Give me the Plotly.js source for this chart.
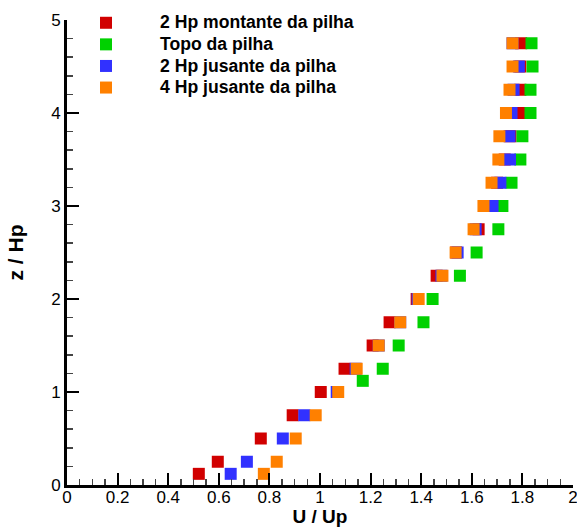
<!DOCTYPE html>
<html>
<head>
<meta charset="utf-8">
<script src="https://cdn.plot.ly/plotly-3.0.1.min.js"></script>
<style>
  html, body { margin: 0; padding: 0; background: #fff; }
  #chart { width: 577px; height: 527px; }
</style>
</head>
<body>
<div id="chart"></div>
<script>
// Series names
const seriesNames = ["2 Hp montante da pilha", "Topo da pilha", "2 Hp jusante da pilha", "4 Hp jusante da pilha"];

// z / Hp levels
const zLevels = [0.12, 0.25, 0.5, 0.75, 1.0, 1.25, 1.5, 1.75, 2.0, 2.25, 2.5, 2.75, 3.0, 3.25, 3.5, 3.75, 4.0, 4.25, 4.5, 4.75];
const zGreen  = [1.12, 1.25, 1.5, 1.75, 2.0, 2.25, 2.5, 2.75, 3.0, 3.25, 3.5, 3.75, 4.0, 4.25, 4.5, 4.75];

// U / Up values
const uMontante2 = [0.521, 0.596, 0.766, 0.892, 1.003, 1.097, 1.208, 1.275, 1.382, 1.461, 1.538, 1.627, 1.66, 1.70, 1.73, 1.753, 1.79, 1.792, 1.792, 1.795];
const uTopo      = [1.169, 1.248, 1.311, 1.409, 1.445, 1.553, 1.619, 1.705, 1.721, 1.757, 1.792, 1.800, 1.832, 1.832, 1.840, 1.836];
const uJusante2  = [0.647, 0.711, 0.853, 0.938, 1.066, 1.141, 1.232, 1.317, 1.386, 1.480, 1.544, 1.615, 1.682, 1.713, 1.751, 1.749, 1.757, 1.765, 1.786, 1.761];
const uJusante4  = [0.778, 0.829, 0.904, 0.983, 1.072, 1.145, 1.232, 1.317, 1.390, 1.484, 1.536, 1.607, 1.646, 1.678, 1.705, 1.709, 1.735, 1.749, 1.761, 1.761];

const colors = ["#d10000", "#00d100", "#3131ff", "#ff8000"];
const FONT = "Liberation Sans, Arial, sans-serif";

function trace(x, y, name, color) {
  return {
    type: "scatter", mode: "markers", x: x, y: y,
    name: '<span style="font-size:17.6px;font-weight:bold">' + name + '</span>',
    marker: { symbol: "square", size: 12, color: color, line: { width: 0 } },
    cliponaxis: false, hoverinfo: "x+y"
  };
}

const data = [
  trace(uMontante2, zLevels, seriesNames[0], colors[0]),
  trace(uTopo, zGreen, seriesNames[1], colors[1]),
  trace(uJusante2, zLevels, seriesNames[2], colors[2]),
  trace(uJusante4, zLevels, seriesNames[3], colors[3])
];

const layout = {
  width: 577, height: 527,
  margin: { l: 67, r: 3.5, t: 20, b: 42, pad: 0 },
  paper_bgcolor: "#fff", plot_bgcolor: "#fff",
  font: { family: FONT, color: "#000" },
  showlegend: true,
  legend: {
    x: -0.0296, xanchor: "left", y: 1.028, yanchor: "top",
    bgcolor: "rgba(0,0,0,0)", borderwidth: 0,
    itemwidth: 98,
    font: { family: FONT, size: 14.3, color: "#000" },
    traceorder: "normal"
  },
  xaxis: {
    range: [0, 2], dtick: 0.2, tick0: 0,
    showgrid: false, zeroline: false,
    showline: true, linewidth: 3, linecolor: "#000",
    ticks: "inside", ticklen: 12, tickwidth: 2, tickcolor: "#000",
    minor: { dtick: 0.05, ticks: "inside", ticklen: 6, tickwidth: 1.5, tickcolor: "#444", showgrid: false },
    tickfont: { family: FONT, size: 17, color: "#000" },
    ticklabelstandoff: -5,
    ticklabeloverflow: "allow",
    title: { text: "<b>U / Up</b>", font: { family: FONT, size: 19, color: "#000" }, standoff: 10 },
    automargin: false, fixedrange: true
  },
  yaxis: {
    range: [0, 5], dtick: 1, tick0: 0,
    showgrid: false, zeroline: false,
    showline: true, linewidth: 3, linecolor: "#000",
    ticks: "inside", ticklen: 12, tickwidth: 2, tickcolor: "#000",
    minor: { dtick: 0.2, ticks: "inside", ticklen: 6, tickwidth: 1.5, tickcolor: "#444", showgrid: false },
    tickfont: { family: FONT, size: 17, color: "#000" },
    ticklabeloverflow: "allow",
    title: { text: "<b>z / Hp</b>", font: { family: FONT, size: 21, color: "#000" }, standoff: 22 },
    automargin: false, fixedrange: true
  }
};

Plotly.newPlot("chart", data, layout, { displayModeBar: false, staticPlot: true });
</script>
</body>
</html>
